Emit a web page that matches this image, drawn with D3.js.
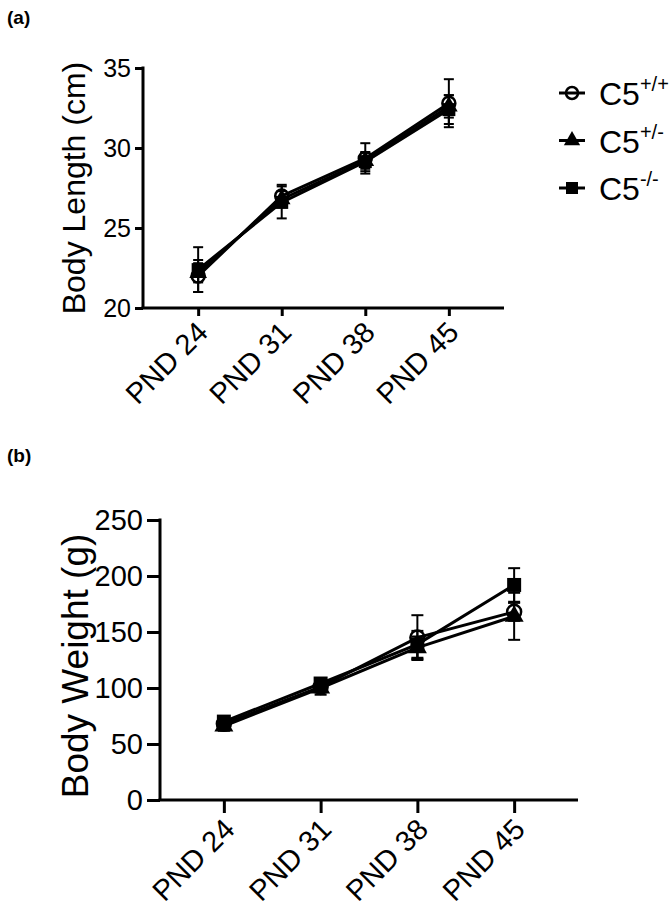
<!DOCTYPE html>
<html>
<head>
<meta charset="utf-8">
<script src="https://cdn.jsdelivr.net/npm/d3@7"></script>
<style>
  body { margin: 0; background: #fff; }
  svg { font-family: "Liberation Sans", Arial, Helvetica, sans-serif; }
</style>
</head>
<body>
<div id="chart"></div>
<script>
// categorías del eje x
var days = ["PND 24", "PND 31", "PND 38", "PND 45"];
var groups = ["C5+/+", "C5+/-", "C5-/-"];
var groupSup = ["+/+", "+/-", "-/-"];

// (a) longitud corporal (cm): media y error
var lengthWT = [22.0, 27.0, 29.35, 32.8];
var lengthWTErr = [1.0, 0.7, 0.95, 1.5];
var lengthHet = [22.2, 26.8, 29.2, 32.6];
var lengthHetErr = [0.6, 0.5, 0.5, 0.7];
var lengthKO = [22.4, 26.6, 29.15, 32.4];
var lengthKOErr = [1.4, 1.0, 0.6, 0.9];
var lengthTicks = [20, 25, 30, 35];

// (b) peso corporal (g): media y error
var weightWT = [68, 101, 145, 168];
var weightWTErr = [6, 5, 20, 8];
var weightHet = [66, 100, 136, 164];
var weightHetErr = [4, 6, 10, 21];
var weightKO = [70, 104, 139, 192];
var weightKOErr = [5, 4, 12, 15];
var weightTicks = [0, 50, 100, 150, 200, 250];

var svg = d3.select("#chart").append("svg")
    .attr("width", 669)
    .attr("height", 914);

function drawPanel(cfg) {
    var x = d3.scalePoint().domain(days).range([cfg.left, cfg.right]).padding(0.66);
    var y = d3.scaleLinear().domain(cfg.domain).range([cfg.bottom, cfg.top]);
    var g = svg.append("g");

    // eje y
    var yAxis = g.append("g")
        .attr("transform", "translate(" + cfg.left + ",0)")
        .call(d3.axisLeft(y).tickValues(cfg.ticks).tickSize(cfg.tick).tickPadding(4).tickSizeOuter(0));
    yAxis.select(".domain").attr("stroke", "#000").attr("stroke-width", 3)
        .attr("d", "M0," + (cfg.top - 1.5) + "V" + cfg.bottom);
    yAxis.selectAll(".tick line").attr("stroke", "#000").attr("stroke-width", 3);
    yAxis.selectAll(".tick text").attr("font-size", cfg.tickFont).attr("fill", "#000")
        .attr("font-family", "Liberation Sans, Arial, sans-serif");

    // eje x
    var xAxis = g.append("g")
        .attr("transform", "translate(0," + cfg.bottom + ")")
        .call(d3.axisBottom(x).tickSize(cfg.tick).tickSizeOuter(0));
    xAxis.select(".domain").attr("stroke", "#000").attr("stroke-width", 3)
        .attr("d", "M" + (cfg.left - 1.5) + ",0H" + cfg.right);
    xAxis.selectAll(".tick line").attr("stroke", "#000").attr("stroke-width", 3);
    xAxis.selectAll(".tick text")
        .attr("font-size", cfg.xFont).attr("fill", "#000")
        .attr("font-family", "Liberation Sans, Arial, sans-serif")
        .attr("text-anchor", "end")
        .attr("dy", null).attr("y", null)
        .attr("transform", "translate(" + cfg.xdx + "," + cfg.xdy + ") rotate(-45)");

    // título del eje y
    g.append("text")
        .attr("transform", "translate(" + cfg.titleX + "," + cfg.titleY + ") rotate(-90)")
        .attr("text-anchor", "middle")
        .attr("font-size", cfg.titleFont)
        .text(cfg.title);

    // letra del panel
    g.append("text")
        .attr("x", 7).attr("y", cfg.letterY)
        .attr("font-size", 19).attr("font-weight", "bold")
        .text(cfg.letter);

    var line = d3.line().x((d, i) => x(days[i])).y(d => y(d));

    cfg.series.forEach(function (s) {
        // barras de error
        var eb = g.append("g");
        s.values.forEach(function (v, i) {
            var cx = x(days[i]);
            eb.append("line").attr("x1", cx).attr("x2", cx)
                .attr("y1", y(v - s.err[i])).attr("y2", y(v + s.err[i]))
                .attr("stroke", "#000").attr("stroke-width", 2);
            [v - s.err[i], v + s.err[i]].forEach(function (e) {
                eb.append("line").attr("x1", cx - cfg.cap).attr("x2", cx + cfg.cap)
                    .attr("y1", y(e)).attr("y2", y(e))
                    .attr("stroke", "#000").attr("stroke-width", 2);
            });
        });
        g.append("path").datum(s.values)
            .attr("d", line)
            .attr("fill", "none").attr("stroke", "#000").attr("stroke-width", 3);
    });

    cfg.series.forEach(function (s) {
        s.values.forEach(function (v, i) {
            drawMarker(g, s.shape, x(days[i]), y(v), cfg.mark);
        });
    });
}

function drawMarker(g, shape, cx, cy, m) {
    if (shape === "circle") {
        g.append("circle").attr("cx", cx).attr("cy", cy).attr("r", m * 0.5)
            .attr("fill", "none").attr("stroke", "#000").attr("stroke-width", 2.5);
    } else {
        var sym = shape === "triangle" ? d3.symbolTriangle : d3.symbolSquare;
        var size = shape === "triangle" ? m * m * 0.8 : m * m;
        g.append("path").attr("d", d3.symbol().type(sym).size(size)())
            .attr("transform", "translate(" + cx + "," + cy + ")")
            .attr("fill", "#000");
    }
}

drawPanel({
    letter: "(a)", letterY: 24,
    left: 143, right: 504, top: 68, bottom: 308,
    domain: [20, 35], ticks: lengthTicks,
    tick: 8, tickFont: 25, xFont: 29, xdx: 11, xdy: 26, cap: 5, mark: 13,
    title: "Body Length (cm)", titleFont: 32, titleX: 85, titleY: 188,
    series: [
        { values: lengthWT, err: lengthWTErr, shape: "circle" },
        { values: lengthHet, err: lengthHetErr, shape: "triangle" },
        { values: lengthKO, err: lengthKOErr, shape: "square" }
    ]
});

drawPanel({
    letter: "(b)", letterY: 462,
    left: 160, right: 578, top: 520, bottom: 800,
    domain: [0, 250], ticks: weightTicks,
    tick: 13, tickFont: 29, xFont: 29, xdx: 12, xdy: 31, cap: 6, mark: 14,
    title: "Body Weight (g)", titleFont: 37, titleX: 88, titleY: 666,
    series: [
        { values: weightWT, err: weightWTErr, shape: "circle" },
        { values: weightHet, err: weightHetErr, shape: "triangle" },
        { values: weightKO, err: weightKOErr, shape: "square" }
    ]
});

// leyenda
var shapes = ["circle", "triangle", "square"];
var legend = svg.append("g");
groups.forEach(function (name, i) {
    var ly = 93 + i * 47.5;
    legend.append("line").attr("x1", 559).attr("x2", 585).attr("y1", ly).attr("y2", ly)
        .attr("stroke", "#000").attr("stroke-width", 3);
    drawMarker(legend, shapes[i], 572, ly, 12);
    var t = legend.append("text").attr("x", 599).attr("y", ly + 12).attr("font-size", 32);
    t.append("tspan").text("C5");
    t.append("tspan").attr("font-size", 20).attr("dy", -14).text(groupSup[i]);
});
</script>
</body>
</html>
